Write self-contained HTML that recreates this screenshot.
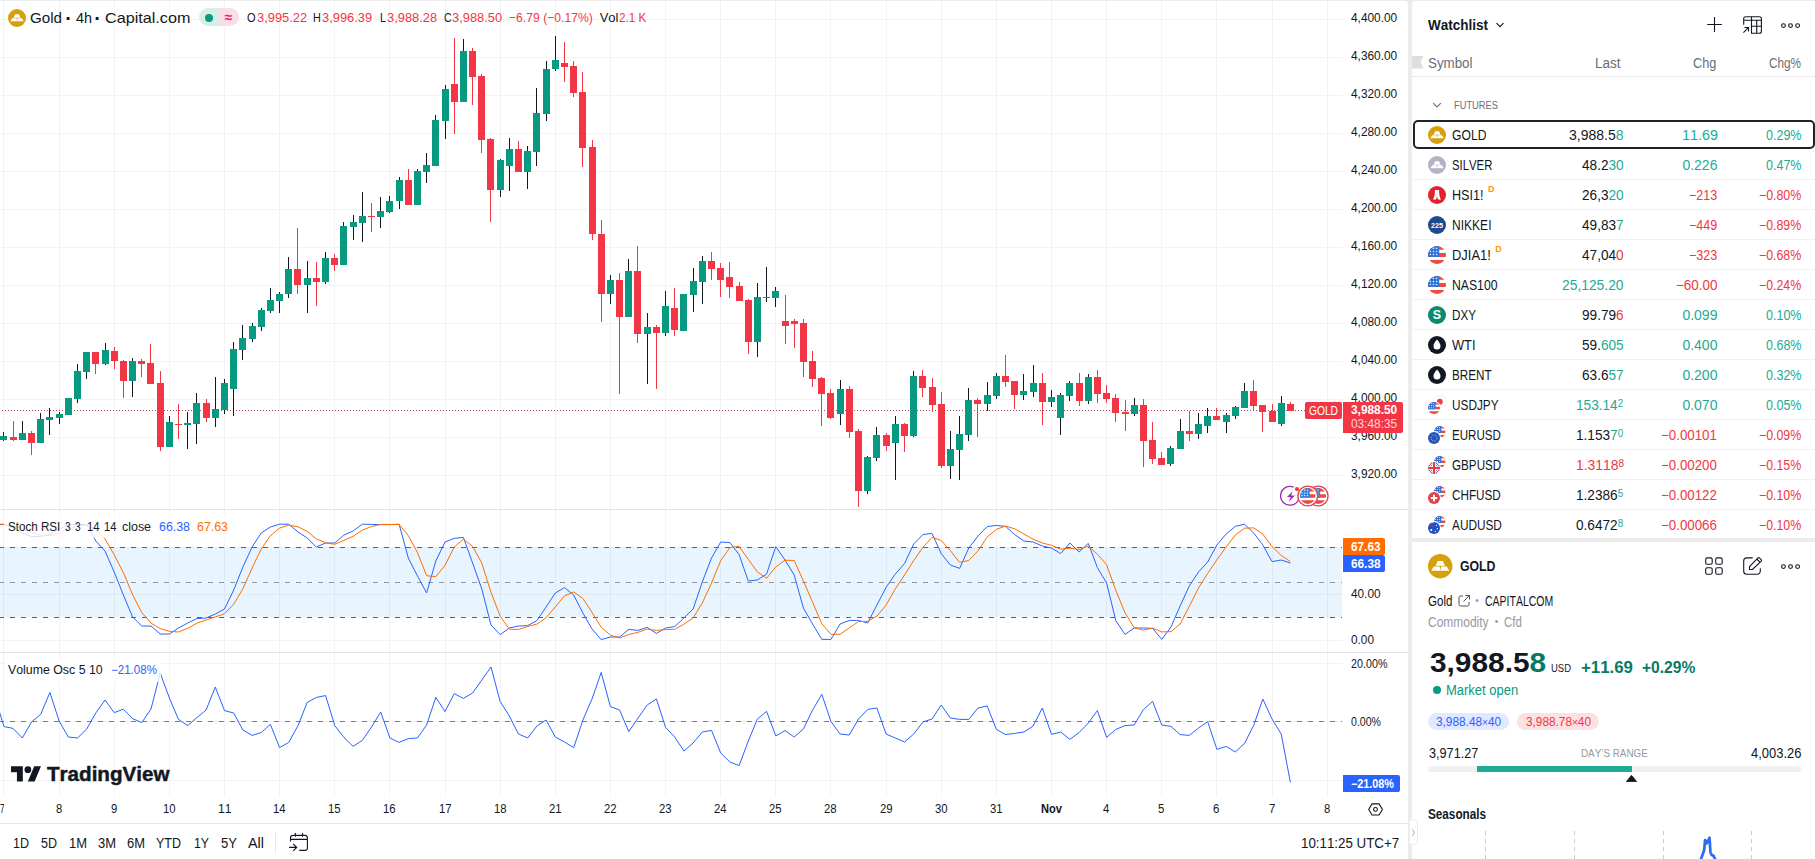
<!DOCTYPE html>
<html lang="en"><head><meta charset="utf-8"><title>GOLD 3,988.58 — TradingView</title>
<style>
html,body{margin:0;padding:0}
body{width:1815px;height:859px;overflow:hidden;background:#ececec;position:relative;font-family:"Liberation Sans",sans-serif;font-kerning:none;-webkit-font-smoothing:antialiased}
.panel{position:absolute;background:#fff}
.chart{position:absolute;left:0;top:0}
.t{position:absolute;white-space:pre;line-height:1;transform-origin:0 50%;letter-spacing:0}
.ic{position:absolute;overflow:visible}
.dot{position:absolute;border-radius:50%}
.pill{position:absolute;border-radius:9px;overflow:hidden;display:flex}
.pill i{flex:1;display:block}
.lgbg{position:absolute;background:rgba(255,255,255,.8);border-radius:2px}
.plab{position:absolute}
.vsep{position:absolute;width:1px;background:#e0e3eb}
.hsep{position:absolute;height:1px;background:#f0f1f4}
.sel{position:absolute;border:2px solid #1e222d;border-radius:5px}
.tag{position:absolute;border-radius:9px}
.handle{position:absolute;background:#fff;border:1px solid #ececec;border-radius:4px;box-sizing:border-box}
</style></head>
<body>
<div class="panel" id="chartpanel" style="left:0;top:1px;width:1408px;height:858px;border-radius:0 3px 0 0"></div>
<svg class="chart" width="1408" height="859" viewBox="0 0 1408 859">
<g shape-rendering="crispEdges" fill="#f2f3f5">
<rect x="3" y="1" width="1" height="795"/>
<rect x="59" y="1" width="1" height="795"/>
<rect x="114" y="1" width="1" height="795"/>
<rect x="169" y="1" width="1" height="795"/>
<rect x="224" y="1" width="1" height="795"/>
<rect x="279" y="1" width="1" height="795"/>
<rect x="334" y="1" width="1" height="795"/>
<rect x="389" y="1" width="1" height="795"/>
<rect x="445" y="1" width="1" height="795"/>
<rect x="500" y="1" width="1" height="795"/>
<rect x="555" y="1" width="1" height="795"/>
<rect x="610" y="1" width="1" height="795"/>
<rect x="665" y="1" width="1" height="795"/>
<rect x="720" y="1" width="1" height="795"/>
<rect x="775" y="1" width="1" height="795"/>
<rect x="830" y="1" width="1" height="795"/>
<rect x="886" y="1" width="1" height="795"/>
<rect x="941" y="1" width="1" height="795"/>
<rect x="996" y="1" width="1" height="795"/>
<rect x="1051" y="1" width="1" height="795"/>
<rect x="1106" y="1" width="1" height="795"/>
<rect x="1161" y="1" width="1" height="795"/>
<rect x="1216" y="1" width="1" height="795"/>
<rect x="1272" y="1" width="1" height="795"/>
<rect x="1327" y="1" width="1" height="795"/>
<rect x="0" y="19" width="1342" height="1"/>
<rect x="0" y="57" width="1342" height="1"/>
<rect x="0" y="95" width="1342" height="1"/>
<rect x="0" y="133" width="1342" height="1"/>
<rect x="0" y="171" width="1342" height="1"/>
<rect x="0" y="209" width="1342" height="1"/>
<rect x="0" y="247" width="1342" height="1"/>
<rect x="0" y="285" width="1342" height="1"/>
<rect x="0" y="323" width="1342" height="1"/>
<rect x="0" y="361" width="1342" height="1"/>
<rect x="0" y="399" width="1342" height="1"/>
<rect x="0" y="437" width="1342" height="1"/>
<rect x="0" y="475" width="1342" height="1"/>
<rect x="0" y="547" width="1342" height="1"/>
<rect x="0" y="594" width="1342" height="1"/>
<rect x="0" y="640" width="1342" height="1"/>
<rect x="0" y="663" width="1342" height="1"/>
<rect x="0" y="721" width="1342" height="1"/>
<rect x="0" y="780" width="1342" height="1"/>
</g>
<g shape-rendering="crispEdges" fill="#e0e3eb">
<rect x="0" y="509" width="1408" height="1"/>
<rect x="0" y="652" width="1408" height="1"/>
<rect x="0" y="823" width="1408" height="1" fill="#e6e7eb"/>
</g>
<rect x="0" y="547.5" width="1342" height="70" fill="#2196f3" fill-opacity="0.1"/>
<g stroke="#787b86" stroke-width="1" fill="none" shape-rendering="crispEdges">
<path d="M-1 547.5H1342M-1 617.5H1342" stroke-dasharray="5 6" stroke="#5d606b"/>
<path d="M-1 582.5H1342" stroke-dasharray="5 6" stroke="#9598a1"/>
<path d="M-1 721.5H1342" stroke-dasharray="5 6" stroke="#787b86"/>
</g>
<path d="M2 410.5H1342" stroke="#a8475a" stroke-width="1" stroke-dasharray="1 2" shape-rendering="crispEdges" fill="none"/>
<g shape-rendering="crispEdges">
<g fill="#131722"><rect x="3" y="432" width="1" height="9"/><rect x="22" y="421" width="1" height="19"/><rect x="40" y="413" width="1" height="30"/><rect x="49" y="408" width="1" height="27"/><rect x="59" y="412" width="1" height="12"/><rect x="68" y="398" width="1" height="17"/><rect x="77" y="364" width="1" height="39"/><rect x="86" y="352" width="1" height="27"/><rect x="105" y="343" width="1" height="22"/><rect x="132" y="358" width="1" height="39"/><rect x="169" y="416" width="1" height="31"/><rect x="187" y="412" width="1" height="37"/><rect x="196" y="393" width="1" height="51"/><rect x="215" y="377" width="1" height="50"/><rect x="224" y="379" width="1" height="35"/><rect x="233" y="342" width="1" height="74"/><rect x="242" y="325" width="1" height="35"/><rect x="252" y="323" width="1" height="19"/><rect x="261" y="308" width="1" height="23"/><rect x="270" y="288" width="1" height="25"/><rect x="279" y="292" width="1" height="21"/><rect x="288" y="257" width="1" height="41"/><rect x="307" y="261" width="1" height="52"/><rect x="325" y="252" width="1" height="32"/><rect x="343" y="222" width="1" height="43"/><rect x="353" y="215" width="1" height="25"/><rect x="362" y="192" width="1" height="50"/><rect x="380" y="197" width="1" height="31"/><rect x="389" y="196" width="1" height="17"/><rect x="399" y="177" width="1" height="32"/><rect x="417" y="169" width="1" height="36"/><rect x="426" y="153" width="1" height="30"/><rect x="435" y="115" width="1" height="51"/><rect x="445" y="85" width="1" height="54"/><rect x="463" y="39" width="1" height="63"/><rect x="500" y="159" width="1" height="38"/><rect x="509" y="138" width="1" height="53"/><rect x="527" y="146" width="1" height="43"/><rect x="536" y="88" width="1" height="78"/><rect x="546" y="61" width="1" height="60"/><rect x="555" y="36" width="1" height="35"/><rect x="610" y="275" width="1" height="29"/><rect x="628" y="259" width="1" height="58"/><rect x="647" y="313" width="1" height="71"/><rect x="665" y="291" width="1" height="45"/><rect x="683" y="294" width="1" height="37"/><rect x="693" y="268" width="1" height="44"/><rect x="702" y="256" width="1" height="48"/><rect x="757" y="283" width="1" height="74"/><rect x="766" y="267" width="1" height="35"/><rect x="775" y="287" width="1" height="20"/><rect x="840" y="380" width="1" height="45"/><rect x="867" y="456" width="1" height="38"/><rect x="876" y="427" width="1" height="34"/><rect x="895" y="416" width="1" height="64"/><rect x="913" y="371" width="1" height="66"/><rect x="950" y="431" width="1" height="48"/><rect x="959" y="416" width="1" height="64"/><rect x="968" y="388" width="1" height="53"/><rect x="987" y="382" width="1" height="29"/><rect x="996" y="373" width="1" height="26"/><rect x="1023" y="374" width="1" height="26"/><rect x="1033" y="365" width="1" height="32"/><rect x="1051" y="390" width="1" height="17"/><rect x="1060" y="393" width="1" height="42"/><rect x="1069" y="381" width="1" height="20"/><rect x="1088" y="374" width="1" height="30"/><rect x="1134" y="398" width="1" height="18"/><rect x="1170" y="446" width="1" height="20"/><rect x="1180" y="419" width="1" height="30"/><rect x="1198" y="413" width="1" height="26"/><rect x="1207" y="408" width="1" height="25"/><rect x="1226" y="413" width="1" height="20"/><rect x="1235" y="406" width="1" height="13"/><rect x="1244" y="383" width="1" height="25"/><rect x="1281" y="396" width="1" height="30"/></g>
<g fill="#f23645"><rect x="13" y="421" width="1" height="20"/><rect x="31" y="431" width="1" height="24"/><rect x="95" y="352" width="1" height="22"/><rect x="114" y="347" width="1" height="22"/><rect x="123" y="360" width="1" height="38"/><rect x="141" y="359" width="1" height="18"/><rect x="150" y="344" width="1" height="40"/><rect x="160" y="371" width="1" height="80"/><rect x="178" y="404" width="1" height="35"/><rect x="206" y="399" width="1" height="23"/><rect x="297" y="228" width="1" height="66"/><rect x="316" y="262" width="1" height="44"/><rect x="334" y="254" width="1" height="17"/><rect x="371" y="203" width="1" height="29"/><rect x="408" y="169" width="1" height="36"/><rect x="454" y="38" width="1" height="96"/><rect x="472" y="48" width="1" height="57"/><rect x="481" y="74" width="1" height="79"/><rect x="490" y="138" width="1" height="84"/><rect x="518" y="141" width="1" height="31"/><rect x="564" y="42" width="1" height="40"/><rect x="573" y="61" width="1" height="36"/><rect x="582" y="72" width="1" height="95"/><rect x="592" y="140" width="1" height="100"/><rect x="601" y="220" width="1" height="102"/><rect x="619" y="273" width="1" height="121"/><rect x="637" y="246" width="1" height="97"/><rect x="656" y="325" width="1" height="64"/><rect x="674" y="288" width="1" height="48"/><rect x="711" y="252" width="1" height="28"/><rect x="720" y="263" width="1" height="34"/><rect x="729" y="262" width="1" height="36"/><rect x="739" y="282" width="1" height="19"/><rect x="748" y="299" width="1" height="55"/><rect x="785" y="295" width="1" height="49"/><rect x="794" y="319" width="1" height="29"/><rect x="803" y="319" width="1" height="58"/><rect x="812" y="351" width="1" height="36"/><rect x="821" y="377" width="1" height="49"/><rect x="830" y="389" width="1" height="30"/><rect x="849" y="386" width="1" height="52"/><rect x="858" y="429" width="1" height="78"/><rect x="886" y="433" width="1" height="18"/><rect x="904" y="423" width="1" height="29"/><rect x="922" y="370" width="1" height="27"/><rect x="932" y="378" width="1" height="34"/><rect x="941" y="392" width="1" height="76"/><rect x="977" y="398" width="1" height="39"/><rect x="1005" y="355" width="1" height="32"/><rect x="1014" y="381" width="1" height="28"/><rect x="1042" y="373" width="1" height="52"/><rect x="1079" y="373" width="1" height="33"/><rect x="1097" y="370" width="1" height="33"/><rect x="1106" y="385" width="1" height="18"/><rect x="1115" y="394" width="1" height="28"/><rect x="1125" y="400" width="1" height="31"/><rect x="1143" y="399" width="1" height="68"/><rect x="1152" y="422" width="1" height="42"/><rect x="1161" y="452" width="1" height="13"/><rect x="1189" y="411" width="1" height="30"/><rect x="1216" y="408" width="1" height="12"/><rect x="1253" y="380" width="1" height="31"/><rect x="1262" y="405" width="1" height="27"/><rect x="1272" y="404" width="1" height="18"/><rect x="1290" y="402" width="1" height="9"/></g>
<g fill="#089981"><rect x="0" y="436" width="7" height="4"/><rect x="19" y="433" width="7" height="7"/><rect x="37" y="419" width="7" height="24"/><rect x="46" y="417" width="7" height="3"/><rect x="56" y="414" width="7" height="4"/><rect x="65" y="398" width="7" height="17"/><rect x="74" y="371" width="7" height="28"/><rect x="83" y="352" width="7" height="20"/><rect x="102" y="350" width="7" height="14"/><rect x="129" y="361" width="7" height="20"/><rect x="166" y="422" width="7" height="25"/><rect x="184" y="423" width="7" height="2"/><rect x="193" y="403" width="7" height="21"/><rect x="212" y="409" width="7" height="9"/><rect x="221" y="383" width="7" height="27"/><rect x="230" y="349" width="7" height="40"/><rect x="239" y="338" width="7" height="12"/><rect x="249" y="326" width="7" height="13"/><rect x="258" y="310" width="7" height="17"/><rect x="267" y="300" width="7" height="11"/><rect x="276" y="294" width="7" height="7"/><rect x="285" y="269" width="7" height="25"/><rect x="304" y="278" width="7" height="7"/><rect x="322" y="258" width="7" height="24"/><rect x="340" y="226" width="7" height="39"/><rect x="350" y="222" width="7" height="5"/><rect x="359" y="216" width="7" height="7"/><rect x="377" y="211" width="7" height="6"/><rect x="386" y="201" width="7" height="11"/><rect x="396" y="180" width="7" height="21"/><rect x="414" y="171" width="7" height="34"/><rect x="423" y="165" width="7" height="7"/><rect x="432" y="120" width="7" height="46"/><rect x="442" y="89" width="7" height="32"/><rect x="460" y="51" width="7" height="51"/><rect x="497" y="160" width="7" height="30"/><rect x="506" y="149" width="7" height="17"/><rect x="524" y="151" width="7" height="21"/><rect x="533" y="113" width="7" height="39"/><rect x="543" y="69" width="7" height="45"/><rect x="552" y="60" width="7" height="9"/><rect x="607" y="280" width="7" height="14"/><rect x="625" y="271" width="7" height="46"/><rect x="644" y="327" width="7" height="7"/><rect x="662" y="306" width="7" height="27"/><rect x="680" y="294" width="7" height="37"/><rect x="690" y="281" width="7" height="14"/><rect x="699" y="261" width="7" height="21"/><rect x="754" y="297" width="7" height="45"/><rect x="763" y="297" width="7" height="1"/><rect x="772" y="291" width="7" height="7"/><rect x="837" y="389" width="7" height="25"/><rect x="864" y="457" width="7" height="34"/><rect x="873" y="435" width="7" height="23"/><rect x="892" y="424" width="7" height="19"/><rect x="910" y="376" width="7" height="60"/><rect x="947" y="449" width="7" height="17"/><rect x="956" y="434" width="7" height="16"/><rect x="965" y="400" width="7" height="35"/><rect x="984" y="395" width="7" height="9"/><rect x="993" y="376" width="7" height="20"/><rect x="1020" y="391" width="7" height="4"/><rect x="1030" y="383" width="7" height="9"/><rect x="1048" y="397" width="7" height="5"/><rect x="1057" y="395" width="7" height="23"/><rect x="1066" y="383" width="7" height="13"/><rect x="1085" y="377" width="7" height="24"/><rect x="1131" y="405" width="7" height="9"/><rect x="1167" y="448" width="7" height="16"/><rect x="1177" y="431" width="7" height="18"/><rect x="1195" y="424" width="7" height="10"/><rect x="1204" y="416" width="7" height="10"/><rect x="1223" y="415" width="7" height="7"/><rect x="1232" y="407" width="7" height="9"/><rect x="1241" y="391" width="7" height="17"/><rect x="1278" y="403" width="7" height="21"/></g>
<g fill="#f23645"><rect x="10" y="437" width="7" height="3"/><rect x="28" y="433" width="7" height="10"/><rect x="92" y="352" width="7" height="12"/><rect x="111" y="351" width="7" height="10"/><rect x="120" y="361" width="7" height="20"/><rect x="138" y="361" width="7" height="3"/><rect x="147" y="363" width="7" height="21"/><rect x="157" y="383" width="7" height="64"/><rect x="175" y="424" width="7" height="1"/><rect x="203" y="403" width="7" height="15"/><rect x="294" y="269" width="7" height="16"/><rect x="313" y="278" width="7" height="4"/><rect x="331" y="258" width="7" height="7"/><rect x="368" y="216" width="7" height="1"/><rect x="405" y="180" width="7" height="25"/><rect x="451" y="84" width="7" height="18"/><rect x="469" y="51" width="7" height="26"/><rect x="478" y="76" width="7" height="64"/><rect x="487" y="139" width="7" height="51"/><rect x="515" y="149" width="7" height="23"/><rect x="561" y="63" width="7" height="4"/><rect x="570" y="66" width="7" height="27"/><rect x="579" y="92" width="7" height="56"/><rect x="589" y="147" width="7" height="87"/><rect x="598" y="234" width="7" height="60"/><rect x="616" y="280" width="7" height="37"/><rect x="634" y="271" width="7" height="63"/><rect x="653" y="327" width="7" height="6"/><rect x="671" y="308" width="7" height="22"/><rect x="708" y="261" width="7" height="8"/><rect x="717" y="268" width="7" height="12"/><rect x="726" y="277" width="7" height="10"/><rect x="736" y="286" width="7" height="15"/><rect x="745" y="300" width="7" height="42"/><rect x="782" y="321" width="7" height="5"/><rect x="791" y="321" width="7" height="3"/><rect x="800" y="323" width="7" height="39"/><rect x="809" y="361" width="7" height="18"/><rect x="818" y="378" width="7" height="16"/><rect x="827" y="393" width="7" height="25"/><rect x="846" y="389" width="7" height="43"/><rect x="855" y="431" width="7" height="60"/><rect x="883" y="435" width="7" height="11"/><rect x="901" y="424" width="7" height="12"/><rect x="919" y="376" width="7" height="12"/><rect x="929" y="387" width="7" height="18"/><rect x="938" y="404" width="7" height="62"/><rect x="974" y="400" width="7" height="4"/><rect x="1002" y="376" width="7" height="6"/><rect x="1011" y="381" width="7" height="14"/><rect x="1039" y="383" width="7" height="19"/><rect x="1076" y="383" width="7" height="18"/><rect x="1094" y="377" width="7" height="17"/><rect x="1103" y="393" width="7" height="6"/><rect x="1112" y="398" width="7" height="15"/><rect x="1122" y="412" width="7" height="2"/><rect x="1140" y="405" width="7" height="36"/><rect x="1149" y="440" width="7" height="19"/><rect x="1158" y="458" width="7" height="7"/><rect x="1186" y="431" width="7" height="3"/><rect x="1213" y="416" width="7" height="4"/><rect x="1250" y="391" width="7" height="15"/><rect x="1259" y="405" width="7" height="7"/><rect x="1269" y="411" width="7" height="11"/><rect x="1287" y="404" width="7" height="7"/></g>
</g>
<g fill="none" stroke-width="1" stroke-linejoin="round">
<polyline stroke="#2962ff" points="-5.2,524.2 4.0,524.5 13.1,528.0 22.3,533.0 31.5,536.5 40.7,536.5 49.9,534.0 59.1,529.0 68.3,525.0 77.5,524.4 86.7,524.6 95.8,541.0 105.0,551.0 114.2,572.0 123.4,595.0 132.6,617.0 141.8,626.0 151.0,626.0 160.2,634.0 169.4,634.0 178.5,628.0 187.7,623.0 196.9,618.6 206.1,618.0 215.3,614.0 224.5,609.0 233.7,590.0 242.9,567.0 252.1,547.0 261.2,533.0 270.4,527.0 279.6,524.2 288.8,524.2 298.0,532.0 307.2,538.0 316.4,547.0 325.6,543.0 334.8,543.0 343.9,535.0 353.1,531.0 362.3,524.2 371.5,524.4 380.7,524.6 389.9,524.6 399.1,524.2 408.3,558.0 417.5,576.0 426.6,593.0 435.8,561.0 445.0,542.0 454.2,538.4 463.4,537.4 472.6,563.0 481.8,589.0 491.0,625.0 500.2,634.6 509.3,628.0 518.5,626.0 527.7,625.6 536.9,620.6 546.1,607.0 555.3,593.0 564.5,587.6 573.7,595.0 582.9,613.0 592.0,629.0 601.2,639.6 610.4,637.0 619.6,637.0 628.8,629.4 638.0,630.4 647.2,627.4 656.4,633.4 665.6,628.0 674.7,626.6 683.9,618.0 693.1,609.0 702.3,582.0 711.5,558.0 720.7,542.0 729.9,542.6 739.1,554.6 748.3,581.0 757.4,580.0 766.6,574.0 775.8,546.6 785.0,560.0 794.2,575.0 803.4,608.0 812.6,624.0 821.8,639.4 831.0,639.4 840.1,624.0 849.3,620.4 858.5,620.4 867.7,623.0 876.9,605.0 886.1,587.4 895.3,574.0 904.5,563.6 913.7,544.0 922.9,534.6 932.0,533.4 941.2,553.6 950.4,565.0 959.6,568.4 968.8,548.0 978.0,536.0 987.2,526.6 996.4,525.4 1005.6,526.4 1014.7,534.6 1023.9,541.0 1033.1,542.0 1042.3,546.0 1051.5,548.0 1060.7,553.6 1069.9,543.0 1079.1,552.0 1088.3,543.4 1097.4,567.6 1106.6,583.0 1115.8,620.6 1125.0,634.4 1134.2,628.0 1143.4,628.0 1152.6,628.4 1161.8,639.4 1171.0,627.0 1180.1,606.0 1189.3,586.0 1198.5,572.0 1207.7,562.0 1216.9,545.0 1226.1,534.0 1235.3,526.4 1244.5,524.2 1253.7,533.0 1262.8,545.0 1272.0,561.6 1281.2,560.0 1290.4,563.0"/>
<polyline stroke="#ff6d00" points="-5.2,524.2 4.0,524.3 13.1,525.6 22.3,528.5 31.5,532.5 40.7,535.3 49.9,535.7 59.1,533.2 68.3,529.3 77.5,526.1 86.7,524.7 95.8,530.0 105.0,538.9 114.2,554.7 123.4,572.7 132.6,594.7 141.8,612.7 151.0,623.0 160.2,628.7 169.4,631.3 178.5,632.0 187.7,628.3 196.9,623.2 206.1,619.9 215.3,616.9 224.5,613.7 233.7,604.3 242.9,588.7 252.1,568.0 261.2,549.0 270.4,535.7 279.6,528.1 288.8,525.1 298.0,526.8 307.2,531.4 316.4,539.0 325.6,542.7 334.8,544.3 343.9,540.3 353.1,536.3 362.3,530.1 371.5,526.5 380.7,524.4 389.9,524.5 399.1,524.5 408.3,535.6 417.5,552.7 426.6,575.7 435.8,576.7 445.0,565.3 454.2,547.1 463.4,539.3 472.6,546.3 481.8,563.1 491.0,592.3 500.2,616.2 509.3,629.2 518.5,629.5 527.7,626.5 536.9,624.1 546.1,617.7 555.3,606.9 564.5,595.9 573.7,591.9 582.9,598.5 592.0,612.3 601.2,627.2 610.4,635.2 619.6,637.9 628.8,634.5 638.0,632.3 647.2,629.1 656.4,630.4 665.6,629.6 674.7,629.3 683.9,624.2 693.1,617.9 702.3,603.0 711.5,583.0 720.7,560.7 729.9,547.5 739.1,546.4 748.3,559.4 757.4,571.9 766.6,578.3 775.8,566.9 785.0,560.2 794.2,560.5 803.4,581.0 812.6,602.3 821.8,623.8 831.0,634.3 840.1,634.3 849.3,627.9 858.5,621.6 867.7,621.3 876.9,616.1 886.1,605.1 895.3,588.8 904.5,575.0 913.7,560.5 922.9,547.4 932.0,537.3 941.2,540.5 950.4,550.7 959.6,562.3 968.8,560.5 978.0,550.8 987.2,536.9 996.4,529.3 1005.6,526.1 1014.7,528.8 1023.9,534.0 1033.1,539.2 1042.3,543.0 1051.5,545.3 1060.7,549.2 1069.9,548.2 1079.1,549.5 1088.3,546.1 1097.4,554.3 1106.6,564.7 1115.8,590.4 1125.0,612.7 1134.2,627.7 1143.4,630.1 1152.6,628.1 1161.8,631.9 1171.0,631.6 1180.1,624.1 1189.3,606.3 1198.5,588.0 1207.7,573.3 1216.9,559.7 1226.1,547.0 1235.3,535.1 1244.5,528.2 1253.7,527.9 1262.8,534.1 1272.0,546.5 1281.2,555.5 1290.4,561.5"/>
<polyline stroke="#2962ff" points="-5.2,697.0 4.0,726.6 13.1,728.4 22.3,738.0 31.5,722.0 40.7,714.4 49.9,692.4 59.1,721.0 68.3,737.0 77.5,738.0 86.7,729.0 95.8,713.0 105.0,700.0 114.2,712.6 123.4,709.2 132.6,718.6 141.8,722.6 151.0,709.0 160.2,673.0 169.4,698.0 178.5,719.4 187.7,725.6 196.9,717.6 206.1,710.0 215.3,687.0 224.5,710.6 233.7,713.0 242.9,730.0 252.1,735.4 261.2,732.6 270.4,724.4 279.6,747.6 288.8,742.4 298.0,725.6 307.2,702.4 316.4,697.4 325.6,695.6 334.8,725.6 343.9,737.4 353.1,746.4 362.3,740.4 371.5,727.0 380.7,712.0 389.9,738.0 399.1,742.4 408.3,738.6 417.5,738.0 426.6,725.0 435.8,697.4 445.0,711.6 454.2,693.6 463.4,698.4 472.6,693.0 481.8,680.0 491.0,667.0 500.2,701.6 509.3,716.0 518.5,734.0 527.7,738.0 536.9,726.0 546.1,720.0 555.3,737.0 564.5,742.0 573.7,747.6 582.9,720.0 592.0,699.0 601.2,672.4 610.4,706.6 619.6,710.0 628.8,731.6 638.0,718.0 647.2,705.0 656.4,699.0 665.6,727.4 674.7,737.0 683.9,751.0 693.1,743.0 702.3,732.0 711.5,730.4 720.7,753.0 729.9,762.0 739.1,765.6 748.3,741.0 757.4,719.0 766.6,711.4 775.8,736.0 785.0,730.6 794.2,737.0 803.4,729.0 812.6,710.0 821.8,694.4 831.0,721.6 840.1,734.0 849.3,735.0 858.5,719.0 867.7,709.4 876.9,708.0 886.1,734.0 895.3,738.0 904.5,742.0 913.7,734.0 922.9,722.0 932.0,719.0 941.2,705.0 950.4,718.0 959.6,719.4 968.8,719.4 978.0,708.0 987.2,706.0 996.4,729.4 1005.6,734.6 1014.7,733.4 1023.9,732.0 1033.1,726.0 1042.3,708.0 1051.5,734.4 1060.7,732.0 1069.9,739.4 1079.1,732.6 1088.3,723.0 1097.4,710.6 1106.6,737.4 1115.8,729.4 1125.0,725.6 1134.2,725.0 1143.4,709.6 1152.6,701.4 1161.8,725.0 1171.0,726.4 1180.1,734.6 1189.3,735.4 1198.5,728.0 1207.7,721.6 1216.9,749.4 1226.1,746.4 1235.3,752.0 1244.5,743.4 1253.7,725.4 1262.8,699.0 1272.0,719.0 1281.2,734.0 1290.4,782.4"/>
</g>
</svg>
<div id="chartui"><svg class="ic" style="left:7.60px;top:8.60px" width="18.00" height="18.00" viewBox="0 0 18 18"><circle cx="9" cy="9" r="9" fill="#d6a00c"/><path fill="#fff" d="M7.1 5.2h3.900l1.500 3.500H5.600zM4.200 9.300h4.400l.5 3H2.400zM9.600 9.300h4.300l1.800 3H9.100z"/></svg>
<span class="t" style="left:30.00px;top:10.52px;font-size:14.5px;color:#131722;transform:scaleX(1.0449);">Gold</span>
<span class="t" style="left:65.17px;top:8.13px;font-size:20px;color:#131722;font-weight:700;">·</span>
<span class="t" style="left:75.60px;top:10.52px;font-size:14.5px;color:#131722;transform:scaleX(0.9922);">4h</span>
<span class="t" style="left:94.17px;top:8.13px;font-size:20px;color:#131722;font-weight:700;">·</span>
<span class="t" style="left:104.60px;top:10.52px;font-size:14.5px;color:#131722;transform:scaleX(1.1156);">Capital.com</span>
<div class="pill" style="left:199px;top:8.2px;width:39.7px;height:18px"><i style="background:#d8efe9"></i><i style="background:#fbdde8"></i></div>
<div class="dot" style="left:205px;top:13.5px;width:8px;height:8px;background:#089981"></div>
<span class="t" style="left:224.66px;top:10.46px;font-size:14px;color:#e91e63;font-weight:700;">≈</span>
<span class="t" style="left:246.80px;top:11.05px;font-size:13px;color:#131722;transform:scaleX(0.8504);">O</span>
<span class="t" style="left:256.50px;top:11.05px;font-size:13px;color:#f23645;transform:scaleX(0.9899);">3,995.22</span>
<span class="t" style="left:313.20px;top:11.05px;font-size:13px;color:#131722;transform:scaleX(0.8310);">H</span>
<span class="t" style="left:322.40px;top:11.05px;font-size:13px;color:#f23645;transform:scaleX(0.9899);">3,996.39</span>
<span class="t" style="left:379.90px;top:11.05px;font-size:13px;color:#131722;transform:scaleX(0.8298);">L</span>
<span class="t" style="left:386.80px;top:11.05px;font-size:13px;color:#f23645;transform:scaleX(0.9899);">3,988.28</span>
<span class="t" style="left:443.50px;top:11.05px;font-size:13px;color:#131722;transform:scaleX(0.8097);">C</span>
<span class="t" style="left:452.00px;top:11.05px;font-size:13px;color:#f23645;transform:scaleX(0.9899);">3,988.50</span>
<span class="t" style="left:509.00px;top:11.05px;font-size:13px;color:#f23645;transform:scaleX(0.9350);">−6.79 (−0.17%)</span>
<span class="t" style="left:599.70px;top:11.05px;font-size:13px;color:#131722;">Vol</span>
<span class="t" style="left:618.60px;top:11.05px;font-size:13px;color:#f23645;transform:scaleX(0.9025);">2.1 K</span>
<div class="lgbg" style="left:4px;top:515px;width:228px;height:23px"></div>
<span class="t" style="left:8.10px;top:520.54px;font-size:12px;color:#131722;transform:scaleX(0.9679);">Stoch RSI</span>
<span class="t" style="left:64.50px;top:520.54px;font-size:12px;color:#131722;transform:scaleX(0.8389);">3</span>
<span class="t" style="left:75.40px;top:520.54px;font-size:12px;color:#131722;transform:scaleX(0.8389);">3</span>
<span class="t" style="left:86.60px;top:520.54px;font-size:12px;color:#131722;transform:scaleX(0.9437);">14</span>
<span class="t" style="left:104.10px;top:520.54px;font-size:12px;color:#131722;transform:scaleX(0.9287);">14</span>
<span class="t" style="left:121.60px;top:520.54px;font-size:12px;color:#131722;transform:scaleX(1.0350);">close</span>
<span class="t" style="left:159.00px;top:520.54px;font-size:12px;color:#2962ff;transform:scaleX(1.0320);">66.38</span>
<span class="t" style="left:197.00px;top:520.54px;font-size:12px;color:#ff6d00;transform:scaleX(1.0320);">67.63</span>
<div class="lgbg" style="left:4px;top:658.5px;width:157px;height:23px"></div>
<span class="t" style="left:8.00px;top:664.14px;font-size:12px;color:#131722;transform:scaleX(1.0284);">Volume Osc 5 10</span>
<span class="t" style="left:111.00px;top:664.14px;font-size:12px;color:#2962ff;transform:scaleX(0.9640);">−21.08%</span>
<span class="t" style="left:1351.00px;top:12.04px;font-size:12px;color:#131722;transform:scaleX(0.9887);">4,400.00</span>
<span class="t" style="left:1351.00px;top:50.04px;font-size:12px;color:#131722;transform:scaleX(0.9887);">4,360.00</span>
<span class="t" style="left:1351.00px;top:88.04px;font-size:12px;color:#131722;transform:scaleX(0.9887);">4,320.00</span>
<span class="t" style="left:1351.00px;top:126.04px;font-size:12px;color:#131722;transform:scaleX(0.9887);">4,280.00</span>
<span class="t" style="left:1351.00px;top:164.04px;font-size:12px;color:#131722;transform:scaleX(0.9887);">4,240.00</span>
<span class="t" style="left:1351.00px;top:202.04px;font-size:12px;color:#131722;transform:scaleX(0.9887);">4,200.00</span>
<span class="t" style="left:1351.00px;top:240.04px;font-size:12px;color:#131722;transform:scaleX(0.9887);">4,160.00</span>
<span class="t" style="left:1351.00px;top:278.04px;font-size:12px;color:#131722;transform:scaleX(0.9887);">4,120.00</span>
<span class="t" style="left:1351.00px;top:316.04px;font-size:12px;color:#131722;transform:scaleX(0.9887);">4,080.00</span>
<span class="t" style="left:1351.00px;top:354.04px;font-size:12px;color:#131722;transform:scaleX(0.9887);">4,040.00</span>
<span class="t" style="left:1351.00px;top:392.04px;font-size:12px;color:#131722;transform:scaleX(0.9887);">4,000.00</span>
<span class="t" style="left:1351.00px;top:430.04px;font-size:12px;color:#131722;transform:scaleX(0.9887);">3,960.00</span>
<span class="t" style="left:1351.00px;top:468.04px;font-size:12px;color:#131722;transform:scaleX(0.9887);">3,920.00</span>
<span class="t" style="left:1351.00px;top:587.74px;font-size:12px;color:#131722;transform:scaleX(0.9821);">40.00</span>
<span class="t" style="left:1351.00px;top:633.54px;font-size:12px;color:#131722;transform:scaleX(0.9845);">0.00</span>
<span class="t" style="left:1351.00px;top:658.14px;font-size:12px;color:#131722;transform:scaleX(0.8966);">20.00%</span>
<span class="t" style="left:1351.00px;top:715.54px;font-size:12px;color:#131722;transform:scaleX(0.8814);">0.00%</span>
<div class="plab" style="left:1304.5px;top:402px;width:37.5px;height:17px;background:#f23645;border-radius:2px"></div>
<span class="t" style="left:1309.00px;top:404.74px;font-size:12px;color:#fff;transform:scaleX(0.8525);">GOLD</span>
<div class="plab" style="left:1343px;top:402px;width:60px;height:30.5px;background:#f23645;border-radius:0 2px 2px 0"></div>
<span class="t" style="left:1351.00px;top:404.14px;font-size:12px;color:#fff;font-weight:700;transform:scaleX(0.9887);">3,988.50</span>
<span class="t" style="left:1351.00px;top:418.14px;font-size:12px;color:rgba(255,255,255,.8);transform:scaleX(0.9887);">03:48:35</span>
<div class="plab" style="left:1343px;top:538.2px;width:42px;height:16.5px;background:#ff6d00;border-radius:0 2px 2px 0"></div>
<span class="t" style="left:1351.00px;top:540.94px;font-size:12px;color:#fff;font-weight:700;transform:scaleX(0.9821);">67.63</span>
<div class="plab" style="left:1343px;top:555.2px;width:42px;height:16.5px;background:#2962ff;border-radius:0 2px 2px 0"></div>
<span class="t" style="left:1351.00px;top:557.94px;font-size:12px;color:#fff;font-weight:700;transform:scaleX(0.9821);">66.38</span>
<div class="plab" style="left:1343px;top:775.3px;width:56.5px;height:16.5px;background:#2962ff;border-radius:0 2px 2px 0"></div>
<span class="t" style="left:1351.00px;top:777.94px;font-size:12px;color:#fff;font-weight:700;transform:scaleX(0.9011);">−21.08%</span>
<span class="t" style="left:0.00px;top:803.14px;font-size:12px;color:#131722;transform:scaleX(0.6741);clip-path:inset(0 0 0 0);">7</span>
<span class="t" style="left:56.35px;top:803.14px;font-size:12px;color:#131722;transform:scaleX(0.9437);">8</span>
<span class="t" style="left:111.35px;top:803.14px;font-size:12px;color:#131722;transform:scaleX(0.9437);">9</span>
<span class="t" style="left:163.20px;top:803.14px;font-size:12px;color:#131722;transform:scaleX(0.9437);">10</span>
<span class="t" style="left:218.20px;top:803.14px;font-size:12px;color:#131722;transform:scaleX(1.0112);">11</span>
<span class="t" style="left:273.20px;top:803.14px;font-size:12px;color:#131722;transform:scaleX(0.9437);">14</span>
<span class="t" style="left:328.20px;top:803.14px;font-size:12px;color:#131722;transform:scaleX(0.9437);">15</span>
<span class="t" style="left:383.20px;top:803.14px;font-size:12px;color:#131722;transform:scaleX(0.9437);">16</span>
<span class="t" style="left:439.20px;top:803.14px;font-size:12px;color:#131722;transform:scaleX(0.9437);">17</span>
<span class="t" style="left:494.20px;top:803.14px;font-size:12px;color:#131722;transform:scaleX(0.9437);">18</span>
<span class="t" style="left:549.20px;top:803.14px;font-size:12px;color:#131722;transform:scaleX(0.9437);">21</span>
<span class="t" style="left:604.20px;top:803.14px;font-size:12px;color:#131722;transform:scaleX(0.9437);">22</span>
<span class="t" style="left:659.20px;top:803.14px;font-size:12px;color:#131722;transform:scaleX(0.9437);">23</span>
<span class="t" style="left:714.20px;top:803.14px;font-size:12px;color:#131722;transform:scaleX(0.9437);">24</span>
<span class="t" style="left:769.20px;top:803.14px;font-size:12px;color:#131722;transform:scaleX(0.9437);">25</span>
<span class="t" style="left:824.20px;top:803.14px;font-size:12px;color:#131722;transform:scaleX(0.9437);">28</span>
<span class="t" style="left:880.20px;top:803.14px;font-size:12px;color:#131722;transform:scaleX(0.9437);">29</span>
<span class="t" style="left:935.20px;top:803.14px;font-size:12px;color:#131722;transform:scaleX(0.9437);">30</span>
<span class="t" style="left:990.20px;top:803.14px;font-size:12px;color:#131722;transform:scaleX(0.9437);">31</span>
<span class="t" style="left:1041.00px;top:803.14px;font-size:12px;color:#131722;font-weight:700;transform:scaleX(0.9261);">Nov</span>
<span class="t" style="left:1103.35px;top:803.14px;font-size:12px;color:#131722;transform:scaleX(0.9437);">4</span>
<span class="t" style="left:1158.35px;top:803.14px;font-size:12px;color:#131722;transform:scaleX(0.9437);">5</span>
<span class="t" style="left:1213.35px;top:803.14px;font-size:12px;color:#131722;transform:scaleX(0.9437);">6</span>
<span class="t" style="left:1269.35px;top:803.14px;font-size:12px;color:#131722;transform:scaleX(0.9437);">7</span>
<span class="t" style="left:1324.35px;top:803.14px;font-size:12px;color:#131722;transform:scaleX(0.9437);">8</span>
<svg class="ic" style="left:1360px;top:795px" width="32" height="28" viewBox="1360 795 32 28" fill="none" stroke="#131722" stroke-width="1.1"><path d="M1368.700 809.500L1372 803.900H1379.100L1382.400 809.500 1379.100 815H1372Z" stroke-linejoin="round"/><circle cx="1375.500" cy="809.400" r="1.900"/></svg>
<span class="t" style="left:13.00px;top:836.16px;font-size:14px;color:#131722;transform:scaleX(0.8941);">1D</span>
<span class="t" style="left:41.00px;top:836.16px;font-size:14px;color:#131722;transform:scaleX(0.8941);">5D</span>
<span class="t" style="left:69.00px;top:836.16px;font-size:14px;color:#131722;transform:scaleX(0.9255);">1M</span>
<span class="t" style="left:98.00px;top:836.16px;font-size:14px;color:#131722;transform:scaleX(0.9255);">3M</span>
<span class="t" style="left:127.00px;top:836.16px;font-size:14px;color:#131722;transform:scaleX(0.9255);">6M</span>
<span class="t" style="left:156.00px;top:836.16px;font-size:14px;color:#131722;transform:scaleX(0.8929);">YTD</span>
<span class="t" style="left:194.00px;top:836.16px;font-size:14px;color:#131722;transform:scaleX(0.8759);">1Y</span>
<span class="t" style="left:221.00px;top:836.16px;font-size:14px;color:#131722;transform:scaleX(0.9343);">5Y</span>
<span class="t" style="left:248.00px;top:836.16px;font-size:14px;color:#131722;transform:scaleX(1.0284);">All</span>
<div class="vsep" style="left:275px;top:832px;height:22px;background:#ebebeb"></div>
<svg class="ic" style="left:280px;top:828px" width="36" height="30" viewBox="280 828 36 30" fill="none" stroke="#131722" stroke-width="1.1"><path d="M290.500 841.600V837.900a2.500 2.500 0 0 1 2.500-2.500h11.900a2.500 2.500 0 0 1 2.500 2.500V847.900a2.500 2.500 0 0 1-2.500 2.500H299.200M290.500 839.400H307.400M295.400 833.100V836.800M302.500 833.100V836.800M289.100 847.400H296.700M293.200 844L296.700 847.400 293.200 850.800"/></svg>
<span class="t" style="left:1300.50px;top:835.96px;font-size:14px;color:#131722;transform:scaleX(0.9522);">10:11:25 UTC+7</span>
<svg class="ic" style="left:11px;top:763.4px" width="30.4" height="23.6" viewBox="0 0 36 28"><path fill="#131722" d="M14 22H7V11H0V4h14v18zM28 22h-8l7.5-18h8L28 22z"/><circle cx="20" cy="8" r="4" fill="#131722"/></svg>
<span class="t" style="left:47.20px;top:764.03px;font-size:20px;color:#131722;font-weight:700;transform:scaleX(1.0301);-webkit-text-stroke:.45px #131722;">TradingView</span>
<svg class="ic" style="left:1275px;top:480px" width="60" height="32" viewBox="1275 480 60 32"><defs><clipPath id="cf1"><circle cx="0" cy="0" r="7.900"/></clipPath></defs><path d="M1293.600 487.100A9.400 9.400 0 1 0 1298.700 492.200" fill="none" stroke="#9c27b0" stroke-width="1.300"/><path d="M1292.600 491.300l-5.600 5.700h3.700l-1.900 4.700 6.200-6.300h-3.900z" fill="#9c27b0"/><circle cx="1318.200" cy="496" r="9.900" fill="#fff" stroke="#e0454f" stroke-width="1.400"/><g transform="translate(1318.200 496)"><g clip-path="url(#cf1)"><g transform="translate(-7.900 -7.900) scale(.8778)"><rect width="18" height="18" fill="#fff"/><path fill="#eb4b41" d="M0 0h18v3.800H0zM0 7.100h18v3.800H0zM0 13.900h18V18H0z"/><rect width="11.200" height="10.900" fill="#2f86e0"/><g fill="#d9f1ff"><circle cx="5.450" cy="2.400" r=".8"/><circle cx="8.600" cy="2.400" r=".8"/><circle cx="2.400" cy="5.450" r=".8"/><circle cx="5.450" cy="5.450" r=".8"/><circle cx="8.600" cy="5.450" r=".8"/><circle cx="2.400" cy="8.500" r=".8"/><circle cx="5.450" cy="8.500" r=".8"/><circle cx="8.600" cy="8.500" r=".8"/></g></g></g></g><circle cx="1307.800" cy="496" r="9.900" fill="#fff" stroke="#e0454f" stroke-width="1.400"/><g transform="translate(1307.800 496)"><g clip-path="url(#cf1)"><g transform="translate(-7.900 -7.900) scale(.8778)"><rect width="18" height="18" fill="#fff"/><path fill="#eb4b41" d="M0 0h18v3.800H0zM0 7.100h18v3.800H0zM0 13.900h18V18H0z"/><rect width="11.200" height="10.900" fill="#2f86e0"/><g fill="#d9f1ff"><circle cx="5.450" cy="2.400" r=".8"/><circle cx="8.600" cy="2.400" r=".8"/><circle cx="2.400" cy="5.450" r=".8"/><circle cx="5.450" cy="5.450" r=".8"/><circle cx="8.600" cy="5.450" r=".8"/><circle cx="2.400" cy="8.500" r=".8"/><circle cx="5.450" cy="8.500" r=".8"/><circle cx="8.600" cy="8.500" r=".8"/></g></g></g></g><circle cx="1297" cy="489.100" r="2.100" fill="#f23645"/></svg></div>
<div id="side"><div class="panel" style="left:1412px;top:1px;width:403px;height:537px;border-radius:3px 0 0 0"></div>
<div class="panel" style="left:1412px;top:542px;width:403px;height:317px"></div>
<span class="t" style="left:1428.00px;top:18.26px;font-size:14px;color:#131722;font-weight:700;transform:scaleX(0.9658);">Watchlist</span>
<svg class="ic" style="left:1494px;top:19px" width="12" height="12" viewBox="0 0 12 12" fill="none" stroke="#131722" stroke-width="1.200"><path d="M2.500 4.200L6 7.700l3.500-3.500"/></svg>
<svg class="ic" style="left:1700px;top:8px" width="110" height="34" viewBox="1700 8 110 34" fill="none" stroke="#131722" stroke-width="1.100"><path d="M1707.200 24.500H1721.900M1714.500 17.100V31.900"/><path d="M1743.700 24.700V18.700a2 2 0 0 1 2-2h13.700a2 2 0 0 1 2 2V31.300a2 2 0 0 1-2 2H1751.500V16.700M1743.700 20.200H1761.400M1751.500 26.300H1761.400M1756.700 20.200V33.300M1743.400 32.600L1748.300 27.700M1744.400 27.500H1748.500V31.600"/><circle cx="1783.500" cy="25.600" r="1.900"/><circle cx="1790.500" cy="25.600" r="1.900"/><circle cx="1797.600" cy="25.600" r="1.900"/></svg>
<svg class="ic" style="left:1412px;top:55.800px" width="12" height="13" viewBox="0 0 12 13"><path fill="#dcdde0" d="M0 0h11.500L8.500 6.200l3 6.200H0z"/></svg>
<span class="t" style="left:1428.00px;top:56.46px;font-size:14px;color:#6a6d78;transform:scaleX(0.9511);">Symbol</span>
<span class="t" style="left:1595.10px;top:56.46px;font-size:14px;color:#6a6d78;transform:scaleX(0.9675);">Last</span>
<span class="t" style="left:1692.90px;top:56.46px;font-size:14px;color:#6a6d78;transform:scaleX(0.9073);">Chg</span>
<span class="t" style="left:1769.00px;top:56.46px;font-size:14px;color:#6a6d78;transform:scaleX(0.8393);">Chg%</span>
<div class="hsep" style="left:1412px;top:76px;width:403px;background:#e9e9ec"></div>
<svg class="ic" style="left:1431px;top:99px" width="12" height="12" viewBox="0 0 12 12" fill="none" stroke="#6a6d78" stroke-width="1.100"><path d="M2.200 4.200L6 8l3.800-3.800"/></svg>
<span class="t" style="left:1454.20px;top:99.63px;font-size:11px;color:#6a6d78;transform:scaleX(0.8451);">FUTURES</span>
<svg class="ic" style="left:1427.90px;top:126.00px" width="18.00" height="18.00" viewBox="0 0 18 18"><circle cx="9" cy="9" r="9" fill="#d6a00c"/><path fill="#fff" d="M7.1 5.2h3.900l1.500 3.500H5.600zM4.200 9.300h4.400l.5 3H2.400zM9.600 9.300h4.300l1.800 3H9.100z"/></svg>
<span class="t" style="left:1452.00px;top:128.16px;font-size:14px;color:#131722;transform:scaleX(0.8670);">GOLD</span>
<span class="t" style="left:1569.00px;top:128.16px;font-size:14px;color:#131722;"><span style="color:#131722;">3,988.5</span><span style="color:#22ab94;">8</span></span>
<span class="t" style="left:1682.40px;top:128.16px;font-size:14px;color:#22ab94;transform:scaleX(1.0267);">11.69</span>
<span class="t" style="left:1765.50px;top:128.16px;font-size:14px;color:#22ab94;transform:scaleX(0.8943);">0.29%</span>
<div class="hsep" style="left:1412px;top:179px;width:403px"></div>
<svg class="ic" style="left:1427.90px;top:156.00px" width="18.00" height="18.00" viewBox="0 0 18 18"><circle cx="9" cy="9" r="9" fill="#b4b2c3"/><path fill="#fff" d="M7.1 5.2h3.900l1.500 3.500H5.600zM4.200 9.300h4.400l.5 3H2.400zM9.600 9.300h4.300l1.800 3H9.100z"/></svg>
<span class="t" style="left:1452.00px;top:158.16px;font-size:14px;color:#131722;transform:scaleX(0.8100);">SILVER</span>
<span class="t" style="left:1581.80px;top:158.16px;font-size:14px;color:#131722;transform:scaleX(0.9716);"><span style="color:#131722;">48.2</span><span style="color:#22ab94;">30</span></span>
<span class="t" style="left:1682.40px;top:158.16px;font-size:14px;color:#22ab94;">0.226</span>
<span class="t" style="left:1765.50px;top:158.16px;font-size:14px;color:#22ab94;transform:scaleX(0.8943);">0.47%</span>
<div class="hsep" style="left:1412px;top:209px;width:403px"></div>
<svg class="ic" style="left:1427.90px;top:186.00px" width="18.00" height="18.00" viewBox="0 0 18 18"><clipPath id="c1"><circle cx="9" cy="9" r="9"/></clipPath><g clip-path="url(#c1)"><rect width="18" height="18" fill="#e0232e"/><path fill="#f9c4c8" d="M8 4.100h2v7H8z"/><path fill="#fff" d="M6.900 4.100h1.900v6.300l-.7 3.200H5c1.400-2.100 1.900-5 1.900-9.500zM11.100 4.100H9.200v6.300l.7 3.200H13c-1.400-2.100-1.900-5-1.900-9.500z"/></g></svg>
<span class="t" style="left:1452.00px;top:188.16px;font-size:14px;color:#131722;transform:scaleX(0.8996);">HSI1!</span>
<span class="t" style="left:1581.80px;top:188.16px;font-size:14px;color:#131722;transform:scaleX(0.9716);"><span style="color:#131722;">26,3</span><span style="color:#22ab94;">20</span></span>
<span class="t" style="left:1689.10px;top:188.16px;font-size:14px;color:#f23645;transform:scaleX(0.8944);">−213</span>
<span class="t" style="left:1758.80px;top:188.16px;font-size:14px;color:#f23645;transform:scaleX(0.8815);">−0.80%</span>
<span class="t" style="left:1488.00px;top:185.10px;font-size:9px;color:#ff9800;font-weight:700;">D</span>
<div class="hsep" style="left:1412px;top:239px;width:403px"></div>
<svg class="ic" style="left:1427.90px;top:216.00px" width="18.00" height="18.00" viewBox="0 0 18 18"><clipPath id="c2"><circle cx="9" cy="9" r="9"/></clipPath><g clip-path="url(#c2)"><rect width="18" height="18" fill="#1e4b8f"/><text x="9" y="11.600" font-family="Liberation Sans,sans-serif" font-weight="700" font-size="7.200" fill="#fff" text-anchor="middle">225</text></g></svg>
<span class="t" style="left:1452.00px;top:218.16px;font-size:14px;color:#131722;transform:scaleX(0.8604);">NIKKEI</span>
<span class="t" style="left:1581.80px;top:218.16px;font-size:14px;color:#131722;transform:scaleX(0.9716);"><span style="color:#131722;">49,83</span><span style="color:#22ab94;">7</span></span>
<span class="t" style="left:1689.10px;top:218.16px;font-size:14px;color:#f23645;transform:scaleX(0.8944);">−449</span>
<span class="t" style="left:1758.80px;top:218.16px;font-size:14px;color:#f23645;transform:scaleX(0.8815);">−0.89%</span>
<div class="hsep" style="left:1412px;top:269px;width:403px"></div>
<svg class="ic" style="left:1427.90px;top:246.00px" width="18.00" height="18.00" viewBox="0 0 18 18"><clipPath id="c3"><circle cx="9" cy="9" r="9"/></clipPath><g clip-path="url(#c3)"><rect width="18" height="18" fill="#fff"/><path fill="#eb4b41" d="M0 0h18v3.800H0zM0 7.100h18v3.800H0zM0 13.900h18V18H0z"/><rect width="11.200" height="10.900" fill="#2f73d9"/><g fill="#d9f1ff"><circle cx="5.450" cy="2.400" r=".8"/><circle cx="8.600" cy="2.400" r=".8"/><circle cx="2.400" cy="5.450" r=".8"/><circle cx="5.450" cy="5.450" r=".8"/><circle cx="8.600" cy="5.450" r=".8"/><circle cx="2.400" cy="8.500" r=".8"/><circle cx="5.450" cy="8.500" r=".8"/><circle cx="8.600" cy="8.500" r=".8"/></g></g></svg>
<span class="t" style="left:1452.00px;top:248.16px;font-size:14px;color:#131722;transform:scaleX(0.9235);">DJIA1!</span>
<span class="t" style="left:1581.80px;top:248.16px;font-size:14px;color:#131722;transform:scaleX(0.9716);"><span style="color:#131722;">47,04</span><span style="color:#f23645;">0</span></span>
<span class="t" style="left:1689.10px;top:248.16px;font-size:14px;color:#f23645;transform:scaleX(0.8944);">−323</span>
<span class="t" style="left:1758.80px;top:248.16px;font-size:14px;color:#f23645;transform:scaleX(0.8815);">−0.68%</span>
<span class="t" style="left:1495.30px;top:245.10px;font-size:9px;color:#ff9800;font-weight:700;">D</span>
<div class="hsep" style="left:1412px;top:299px;width:403px"></div>
<svg class="ic" style="left:1427.90px;top:276.00px" width="18.00" height="18.00" viewBox="0 0 18 18"><clipPath id="c4"><circle cx="9" cy="9" r="9"/></clipPath><g clip-path="url(#c4)"><rect width="18" height="18" fill="#fff"/><path fill="#eb4b41" d="M0 0h18v3.800H0zM0 7.100h18v3.800H0zM0 13.900h18V18H0z"/><rect width="11.200" height="10.900" fill="#2f73d9"/><g fill="#d9f1ff"><circle cx="5.450" cy="2.400" r=".8"/><circle cx="8.600" cy="2.400" r=".8"/><circle cx="2.400" cy="5.450" r=".8"/><circle cx="5.450" cy="5.450" r=".8"/><circle cx="8.600" cy="5.450" r=".8"/><circle cx="2.400" cy="8.500" r=".8"/><circle cx="5.450" cy="8.500" r=".8"/><circle cx="8.600" cy="8.500" r=".8"/></g></g></svg>
<span class="t" style="left:1452.00px;top:278.16px;font-size:14px;color:#131722;transform:scaleX(0.8726);">NAS100</span>
<span class="t" style="left:1561.90px;top:278.16px;font-size:14px;color:#131722;transform:scaleX(0.9875);"><span style="color:#22ab94;">25,125.20</span></span>
<span class="t" style="left:1675.80px;top:278.16px;font-size:14px;color:#f23645;transform:scaleX(0.9605);">−60.00</span>
<span class="t" style="left:1758.80px;top:278.16px;font-size:14px;color:#f23645;transform:scaleX(0.8815);">−0.24%</span>
<div class="hsep" style="left:1412px;top:329px;width:403px"></div>
<svg class="ic" style="left:1427.90px;top:306.00px" width="18.00" height="18.00" viewBox="0 0 18 18"><clipPath id="c5"><circle cx="9" cy="9" r="9"/></clipPath><g clip-path="url(#c5)"><rect width="18" height="18" fill="#0b8a6c"/><text x="9" y="13.300" font-family="Liberation Sans,sans-serif" font-weight="700" font-size="12.500" fill="#fff" text-anchor="middle">S</text></g></svg>
<span class="t" style="left:1452.00px;top:308.16px;font-size:14px;color:#131722;transform:scaleX(0.8336);">DXY</span>
<span class="t" style="left:1581.80px;top:308.16px;font-size:14px;color:#131722;transform:scaleX(0.9716);"><span style="color:#131722;">99.79</span><span style="color:#f23645;">6</span></span>
<span class="t" style="left:1682.40px;top:308.16px;font-size:14px;color:#22ab94;">0.099</span>
<span class="t" style="left:1765.50px;top:308.16px;font-size:14px;color:#22ab94;transform:scaleX(0.8943);">0.10%</span>
<div class="hsep" style="left:1412px;top:359px;width:403px"></div>
<svg class="ic" style="left:1427.90px;top:336.00px" width="18.00" height="18.00" viewBox="0 0 18 18"><clipPath id="c6"><circle cx="9" cy="9" r="9"/></clipPath><g clip-path="url(#c6)"><rect width="18" height="18" fill="#131722"/><path fill="#fff" d="M9 3.600c2.200 2.600 3.500 4.500 3.500 6.500a3.500 3.500 0 0 1-7 0c0-2 1.300-3.900 3.500-6.500z"/></g></svg>
<span class="t" style="left:1452.00px;top:338.16px;font-size:14px;color:#131722;transform:scaleX(0.9160);">WTI</span>
<span class="t" style="left:1581.80px;top:338.16px;font-size:14px;color:#131722;transform:scaleX(0.9716);"><span style="color:#131722;">59.</span><span style="color:#22ab94;">605</span></span>
<span class="t" style="left:1682.40px;top:338.16px;font-size:14px;color:#22ab94;">0.400</span>
<span class="t" style="left:1765.50px;top:338.16px;font-size:14px;color:#22ab94;transform:scaleX(0.8943);">0.68%</span>
<div class="hsep" style="left:1412px;top:389px;width:403px"></div>
<svg class="ic" style="left:1427.90px;top:366.00px" width="18.00" height="18.00" viewBox="0 0 18 18"><clipPath id="c7"><circle cx="9" cy="9" r="9"/></clipPath><g clip-path="url(#c7)"><rect width="18" height="18" fill="#131722"/><path fill="#fff" d="M9 3.600c2.200 2.600 3.500 4.500 3.500 6.500a3.500 3.500 0 0 1-7 0c0-2 1.300-3.900 3.500-6.500z"/></g></svg>
<span class="t" style="left:1452.00px;top:368.16px;font-size:14px;color:#131722;transform:scaleX(0.8325);">BRENT</span>
<span class="t" style="left:1581.80px;top:368.16px;font-size:14px;color:#131722;transform:scaleX(0.9716);"><span style="color:#131722;">63.6</span><span style="color:#22ab94;">57</span></span>
<span class="t" style="left:1682.40px;top:368.16px;font-size:14px;color:#22ab94;">0.200</span>
<span class="t" style="left:1765.50px;top:368.16px;font-size:14px;color:#22ab94;transform:scaleX(0.8943);">0.32%</span>
<div class="hsep" style="left:1412px;top:419px;width:403px"></div>
<div class="dot" style="left:1433.40px;top:394.90px;width:13.60px;height:13.60px;background:#fff;box-shadow:0 0 0 .5px #e0e3eb inset;"></div><svg class="ic" style="left:1434.40px;top:395.90px" width="11.60" height="11.60" viewBox="0 0 18 18"><clipPath id="c8"><circle cx="9" cy="9" r="9"/></clipPath><g clip-path="url(#c8)"><rect width="18" height="18" fill="#fff"/><circle cx="9" cy="9" r="4.600" fill="#e8414b"/></g></svg><div class="dot" style="left:1427.10px;top:401.00px;width:14.00px;height:14.00px;background:#fff;"></div><svg class="ic" style="left:1428.10px;top:402.00px" width="12.00" height="12.00" viewBox="0 0 18 18"><clipPath id="c9"><circle cx="9" cy="9" r="9"/></clipPath><g clip-path="url(#c9)"><rect width="18" height="18" fill="#fff"/><path fill="#eb4b41" d="M0 0h18v3.800H0zM0 7.100h18v3.800H0zM0 13.900h18V18H0z"/><rect width="11.200" height="10.900" fill="#2f73d9"/><g fill="#d9f1ff"><circle cx="5.450" cy="2.400" r=".8"/><circle cx="8.600" cy="2.400" r=".8"/><circle cx="2.400" cy="5.450" r=".8"/><circle cx="5.450" cy="5.450" r=".8"/><circle cx="8.600" cy="5.450" r=".8"/><circle cx="2.400" cy="8.500" r=".8"/><circle cx="5.450" cy="8.500" r=".8"/><circle cx="8.600" cy="8.500" r=".8"/></g></g></svg>
<span class="t" style="left:1452.00px;top:398.16px;font-size:14px;color:#131722;transform:scaleX(0.8436);">USDJPY</span>
<span class="t" style="left:1576.30px;top:398.16px;font-size:14px;color:#131722;transform:scaleX(0.9727);"><span style="color:#22ab94;">153.14</span><span style="color:#22ab94;font-size:10.08px;position:relative;top:-3.500px;">2</span></span>
<span class="t" style="left:1682.40px;top:398.16px;font-size:14px;color:#22ab94;">0.070</span>
<span class="t" style="left:1765.50px;top:398.16px;font-size:14px;color:#22ab94;transform:scaleX(0.8943);">0.05%</span>
<div class="hsep" style="left:1412px;top:449px;width:403px"></div>
<svg class="ic" style="left:1434.40px;top:425.90px" width="11.60" height="11.60" viewBox="0 0 18 18"><clipPath id="c10"><circle cx="9" cy="9" r="9"/></clipPath><g clip-path="url(#c10)"><rect width="18" height="18" fill="#fff"/><path fill="#eb4b41" d="M0 0h18v3.800H0zM0 7.100h18v3.800H0zM0 13.900h18V18H0z"/><rect width="11.200" height="10.900" fill="#2f73d9"/><g fill="#d9f1ff"><circle cx="5.450" cy="2.400" r=".8"/><circle cx="8.600" cy="2.400" r=".8"/><circle cx="2.400" cy="5.450" r=".8"/><circle cx="5.450" cy="5.450" r=".8"/><circle cx="8.600" cy="5.450" r=".8"/><circle cx="2.400" cy="8.500" r=".8"/><circle cx="5.450" cy="8.500" r=".8"/><circle cx="8.600" cy="8.500" r=".8"/></g></g></svg><div class="dot" style="left:1427.10px;top:431.00px;width:14.00px;height:14.00px;background:#fff;"></div><svg class="ic" style="left:1428.10px;top:432.00px" width="12.00" height="12.00" viewBox="0 0 18 18"><clipPath id="c11"><circle cx="9" cy="9" r="9"/></clipPath><g clip-path="url(#c11)"><rect width="18" height="18" fill="#1f55c4"/><circle cx="9" cy="9" r="4.500" fill="none" stroke="#ffd54f" stroke-width="1.400" stroke-dasharray="1.300 1.500"/></g></svg>
<span class="t" style="left:1452.00px;top:428.16px;font-size:14px;color:#131722;transform:scaleX(0.8255);">EURUSD</span>
<span class="t" style="left:1576.30px;top:428.16px;font-size:14px;color:#131722;transform:scaleX(0.9727);"><span style="color:#131722;">1.153</span><span style="color:#22ab94;">7</span><span style="color:#22ab94;font-size:10.08px;position:relative;top:-3.500px;">0</span></span>
<span class="t" style="left:1661.40px;top:428.16px;font-size:14px;color:#f23645;transform:scaleX(0.9510);">−0.00101</span>
<span class="t" style="left:1758.80px;top:428.16px;font-size:14px;color:#f23645;transform:scaleX(0.8815);">−0.09%</span>
<div class="hsep" style="left:1412px;top:479px;width:403px"></div>
<svg class="ic" style="left:1434.40px;top:455.90px" width="11.60" height="11.60" viewBox="0 0 18 18"><clipPath id="c12"><circle cx="9" cy="9" r="9"/></clipPath><g clip-path="url(#c12)"><rect width="18" height="18" fill="#fff"/><path fill="#eb4b41" d="M0 0h18v3.800H0zM0 7.100h18v3.800H0zM0 13.900h18V18H0z"/><rect width="11.200" height="10.900" fill="#2f73d9"/><g fill="#d9f1ff"><circle cx="5.450" cy="2.400" r=".8"/><circle cx="8.600" cy="2.400" r=".8"/><circle cx="2.400" cy="5.450" r=".8"/><circle cx="5.450" cy="5.450" r=".8"/><circle cx="8.600" cy="5.450" r=".8"/><circle cx="2.400" cy="8.500" r=".8"/><circle cx="5.450" cy="8.500" r=".8"/><circle cx="8.600" cy="8.500" r=".8"/></g></g></svg><div class="dot" style="left:1427.10px;top:461.00px;width:14.00px;height:14.00px;background:#fff;"></div><svg class="ic" style="left:1428.10px;top:462.00px" width="12.00" height="12.00" viewBox="0 0 18 18"><clipPath id="c13"><circle cx="9" cy="9" r="9"/></clipPath><g clip-path="url(#c13)"><rect width="18" height="18" fill="#3a5bc0"/><path d="M0 0l18 18M18 0L0 18" stroke="#fff" stroke-width="3.600"/><path d="M0 0l18 18M18 0L0 18" stroke="#e53945" stroke-width="1.300"/><path d="M9 0v18M0 9h18" stroke="#fff" stroke-width="5.400"/><path d="M9 0v18M0 9h18" stroke="#e53945" stroke-width="3"/></g></svg>
<span class="t" style="left:1452.00px;top:458.16px;font-size:14px;color:#131722;transform:scaleX(0.8338);">GBPUSD</span>
<span class="t" style="left:1576.30px;top:458.16px;font-size:14px;color:#131722;transform:scaleX(0.9940);"><span style="color:#f23645;">1.3118</span><span style="color:#f23645;font-size:10.08px;position:relative;top:-3.500px;">8</span></span>
<span class="t" style="left:1661.40px;top:458.16px;font-size:14px;color:#f23645;transform:scaleX(0.9510);">−0.00200</span>
<span class="t" style="left:1758.80px;top:458.16px;font-size:14px;color:#f23645;transform:scaleX(0.8815);">−0.15%</span>
<div class="hsep" style="left:1412px;top:509px;width:403px"></div>
<svg class="ic" style="left:1434.40px;top:485.90px" width="11.60" height="11.60" viewBox="0 0 18 18"><clipPath id="c14"><circle cx="9" cy="9" r="9"/></clipPath><g clip-path="url(#c14)"><rect width="18" height="18" fill="#fff"/><path fill="#eb4b41" d="M0 0h18v3.800H0zM0 7.100h18v3.800H0zM0 13.900h18V18H0z"/><rect width="11.200" height="10.900" fill="#2f73d9"/><g fill="#d9f1ff"><circle cx="5.450" cy="2.400" r=".8"/><circle cx="8.600" cy="2.400" r=".8"/><circle cx="2.400" cy="5.450" r=".8"/><circle cx="5.450" cy="5.450" r=".8"/><circle cx="8.600" cy="5.450" r=".8"/><circle cx="2.400" cy="8.500" r=".8"/><circle cx="5.450" cy="8.500" r=".8"/><circle cx="8.600" cy="8.500" r=".8"/></g></g></svg><div class="dot" style="left:1427.10px;top:491.00px;width:14.00px;height:14.00px;background:#fff;"></div><svg class="ic" style="left:1428.10px;top:492.00px" width="12.00" height="12.00" viewBox="0 0 18 18"><clipPath id="c15"><circle cx="9" cy="9" r="9"/></clipPath><g clip-path="url(#c15)"><rect width="18" height="18" fill="#e8414b"/><path d="M9 4.200v9.600M4.200 9h9.600" stroke="#fff" stroke-width="3"/></g></svg>
<span class="t" style="left:1452.00px;top:488.16px;font-size:14px;color:#131722;transform:scaleX(0.8366);">CHFUSD</span>
<span class="t" style="left:1576.30px;top:488.16px;font-size:14px;color:#131722;transform:scaleX(0.9727);"><span style="color:#131722;">1.2386</span><span style="color:#22ab94;font-size:10.08px;position:relative;top:-3.500px;">5</span></span>
<span class="t" style="left:1661.40px;top:488.16px;font-size:14px;color:#f23645;transform:scaleX(0.9510);">−0.00122</span>
<span class="t" style="left:1758.80px;top:488.16px;font-size:14px;color:#f23645;transform:scaleX(0.8815);">−0.10%</span>
<svg class="ic" style="left:1434.40px;top:515.90px" width="11.60" height="11.60" viewBox="0 0 18 18"><clipPath id="c16"><circle cx="9" cy="9" r="9"/></clipPath><g clip-path="url(#c16)"><rect width="18" height="18" fill="#fff"/><path fill="#eb4b41" d="M0 0h18v3.800H0zM0 7.100h18v3.800H0zM0 13.900h18V18H0z"/><rect width="11.200" height="10.900" fill="#2f73d9"/><g fill="#d9f1ff"><circle cx="5.450" cy="2.400" r=".8"/><circle cx="8.600" cy="2.400" r=".8"/><circle cx="2.400" cy="5.450" r=".8"/><circle cx="5.450" cy="5.450" r=".8"/><circle cx="8.600" cy="5.450" r=".8"/><circle cx="2.400" cy="8.500" r=".8"/><circle cx="5.450" cy="8.500" r=".8"/><circle cx="8.600" cy="8.500" r=".8"/></g></g></svg><div class="dot" style="left:1427.10px;top:521.00px;width:14.00px;height:14.00px;background:#fff;"></div><svg class="ic" style="left:1428.10px;top:522.00px" width="12.00" height="12.00" viewBox="0 0 18 18"><clipPath id="c17"><circle cx="9" cy="9" r="9"/></clipPath><g clip-path="url(#c17)"><rect width="18" height="18" fill="#1f4fc0"/><g fill="#fff"><circle cx="5" cy="12" r="1.600"/><circle cx="12.500" cy="5" r="1"/><circle cx="14" cy="10" r="1"/><circle cx="11" cy="14" r="1"/><path d="M0 0h8v1.500H0z" /></g><path d="M0 0l8 7" stroke="#e53945" stroke-width="1.200"/></g></svg>
<span class="t" style="left:1452.00px;top:518.16px;font-size:14px;color:#131722;transform:scaleX(0.8441);">AUDUSD</span>
<span class="t" style="left:1576.30px;top:518.16px;font-size:14px;color:#131722;transform:scaleX(0.9727);"><span style="color:#131722;">0.6472</span><span style="color:#22ab94;font-size:10.08px;position:relative;top:-3.500px;">8</span></span>
<span class="t" style="left:1661.40px;top:518.16px;font-size:14px;color:#f23645;transform:scaleX(0.9510);">−0.00066</span>
<span class="t" style="left:1758.80px;top:518.16px;font-size:14px;color:#f23645;transform:scaleX(0.8815);">−0.10%</span>
<div class="sel" style="left:1413px;top:119.900px;width:397.500px;height:24.900px"></div>
<svg class="ic" style="left:1428.00px;top:553.80px" width="24.40" height="24.40" viewBox="0 0 18 18"><circle cx="9" cy="9" r="9" fill="#d6a00c"/><path fill="#fff" d="M7.1 5.2h3.900l1.500 3.500H5.600zM4.200 9.300h4.400l.5 3H2.400zM9.600 9.300h4.300l1.800 3H9.100z"/></svg>
<span class="t" style="left:1460.40px;top:559.16px;font-size:14px;color:#131722;font-weight:700;transform:scaleX(0.8778);">GOLD</span>
<svg class="ic" style="left:1700px;top:549px" width="110" height="34" viewBox="1700 549 110 34" fill="none" stroke="#131722" stroke-width="1.100"><rect x="1705.700" y="557.900" width="6.500" height="6.300" rx="1.500"/><rect x="1715.700" y="557.900" width="6.500" height="6.300" rx="1.500"/><rect x="1705.700" y="567.700" width="6.500" height="6.500" rx="1.500"/><rect x="1715.700" y="567.700" width="6.500" height="6.500" rx="1.500"/><path d="M1752.700 557.900H1746.700a3 3 0 0 0-3 3V571.300a3 3 0 0 0 3 3H1757.300a3 3 0 0 0 3-3V568.300"/><path d="M1749.500 569.500V566.600L1758 557.900a1 1 0 0 1 1.400 0l1.900 1.900a1 1 0 0 1 0 1.400L1752.400 569.500ZM1756.800 559l3.100 3.100" stroke-linejoin="round"/><circle cx="1783.500" cy="566.600" r="1.900"/><circle cx="1790.500" cy="566.600" r="1.900"/><circle cx="1797.600" cy="566.600" r="1.900"/></svg>
<span class="t" style="left:1428.00px;top:593.76px;font-size:14px;color:#131722;transform:scaleX(0.8252);">Gold</span>
<svg class="ic" style="left:1457px;top:593.500px" width="14" height="14" viewBox="0 0 14 14" fill="none" stroke="#50535e" stroke-width="1"><path d="M6 2H3.500A1.500 1.500 0 0 0 2 3.500v7A1.500 1.500 0 0 0 3.500 12h7a1.500 1.500 0 0 0 1.500-1.500V8M8.500 1.500h4v4M12.500 1.500L6.500 7.500"/></svg>
<span class="t" style="left:1475.25px;top:595.91px;font-size:10px;color:#9598a1;">•</span>
<span class="t" style="left:1484.80px;top:593.76px;font-size:14px;color:#131722;transform:scaleX(0.7502);">CAPITALCOM</span>
<span class="t" style="left:1428.00px;top:614.86px;font-size:14px;color:#9598a1;transform:scaleX(0.8560);">Commodity</span>
<span class="t" style="left:1494.65px;top:617.12px;font-size:10px;color:#9598a1;">•</span>
<span class="t" style="left:1504.10px;top:614.86px;font-size:14px;color:#9598a1;transform:scaleX(0.8171);">Cfd</span>
<span class="t" style="left:1429.80px;top:649.12px;font-size:28px;color:#131722;font-weight:700;transform:scaleX(1.0651);"><span style="color:#131722;">3,988.5</span><span style="color:#067a67;">8</span></span>
<span class="t" style="left:1551.40px;top:663.43px;font-size:11px;color:#131722;transform:scaleX(0.8611);">USD</span>
<span class="t" style="left:1581.20px;top:659.88px;font-size:16px;color:#067a67;font-weight:700;transform:scaleX(1.0515);">+11.69</span>
<span class="t" style="left:1641.80px;top:659.88px;font-size:16px;color:#067a67;font-weight:700;transform:scaleX(0.9742);">+0.29%</span>
<div class="dot" style="left:1432.900px;top:686.300px;width:8px;height:8px;background:#089981"></div>
<span class="t" style="left:1446.00px;top:683.16px;font-size:14px;color:#089981;transform:scaleX(0.9265);">Market open</span>
<div class="tag" style="left:1428px;top:713.200px;width:81px;height:17.300px;background:#e1e8ff"></div>
<span class="t" style="left:1436.40px;top:715.25px;font-size:13px;color:#2962ff;transform:scaleX(0.9102);">3,988.48<span style="font-size:11.05px;">×</span>40</span>
<div class="tag" style="left:1517px;top:713.200px;width:82px;height:17.300px;background:#fce1e3"></div>
<span class="t" style="left:1525.70px;top:715.25px;font-size:13px;color:#f23645;transform:scaleX(0.9088);">3,988.78<span style="font-size:11.05px;">×</span>40</span>
<span class="t" style="left:1428.70px;top:745.86px;font-size:14px;color:#131722;transform:scaleX(0.9047);">3,971.27</span>
<span class="t" style="left:1581.40px;top:747.83px;font-size:11px;color:#9598a1;transform:scaleX(0.8949);">DAY’S RANGE</span>
<span class="t" style="left:1750.60px;top:745.86px;font-size:14px;color:#131722;transform:scaleX(0.9249);">4,003.26</span>
<div class="tag" style="left:1428px;top:766px;width:373px;height:6px;background:#f0f0f0;border-radius:3px"></div>
<div class="tag" style="left:1476.800px;top:766px;width:155px;height:6px;background:#22ab94;border-radius:0"></div>
<svg class="ic" style="left:1626.300px;top:775px" width="11" height="7" viewBox="0 0 11 7"><path d="M5.500 .300L10.600 6.500H.4z" fill="#131722" stroke="#131722" stroke-width=".800" stroke-linejoin="round"/></svg>
<span class="t" style="left:1428.00px;top:807.12px;font-size:14.5px;color:#131722;font-weight:700;transform:scaleX(0.8087);">Seasonals</span>
<svg class="ic" style="left:1412px;top:828px" width="403" height="31" viewBox="0 0 403 31" fill="none"><path d="M73.500 3v28M162.500 3v28M251.500 3v28M339.500 3v28" stroke="#c9ccd3" stroke-width="1" stroke-dasharray="4 4"/><path d="M288.700 32L292.100 22.300 293.100 12 294.900 15.300 297.500 9.700 298.500 24.700Q299 27 301.600 27.900L303.500 32" stroke="#2d6cf0" stroke-width="2.700" stroke-linejoin="round" stroke-linecap="round"/></svg>
<div class="handle" style="left:1409.400px;top:819.100px;width:8.300px;height:26px"></div>
<svg class="ic" style="left:1409px;top:825px" width="10" height="15" viewBox="1409 825 10 15" fill="none" stroke="#a3a6af" stroke-width="1"><path d="M1412.300 829.400L1414.500 832.500 1412.300 835.700"/></svg></div>
</body></html>
